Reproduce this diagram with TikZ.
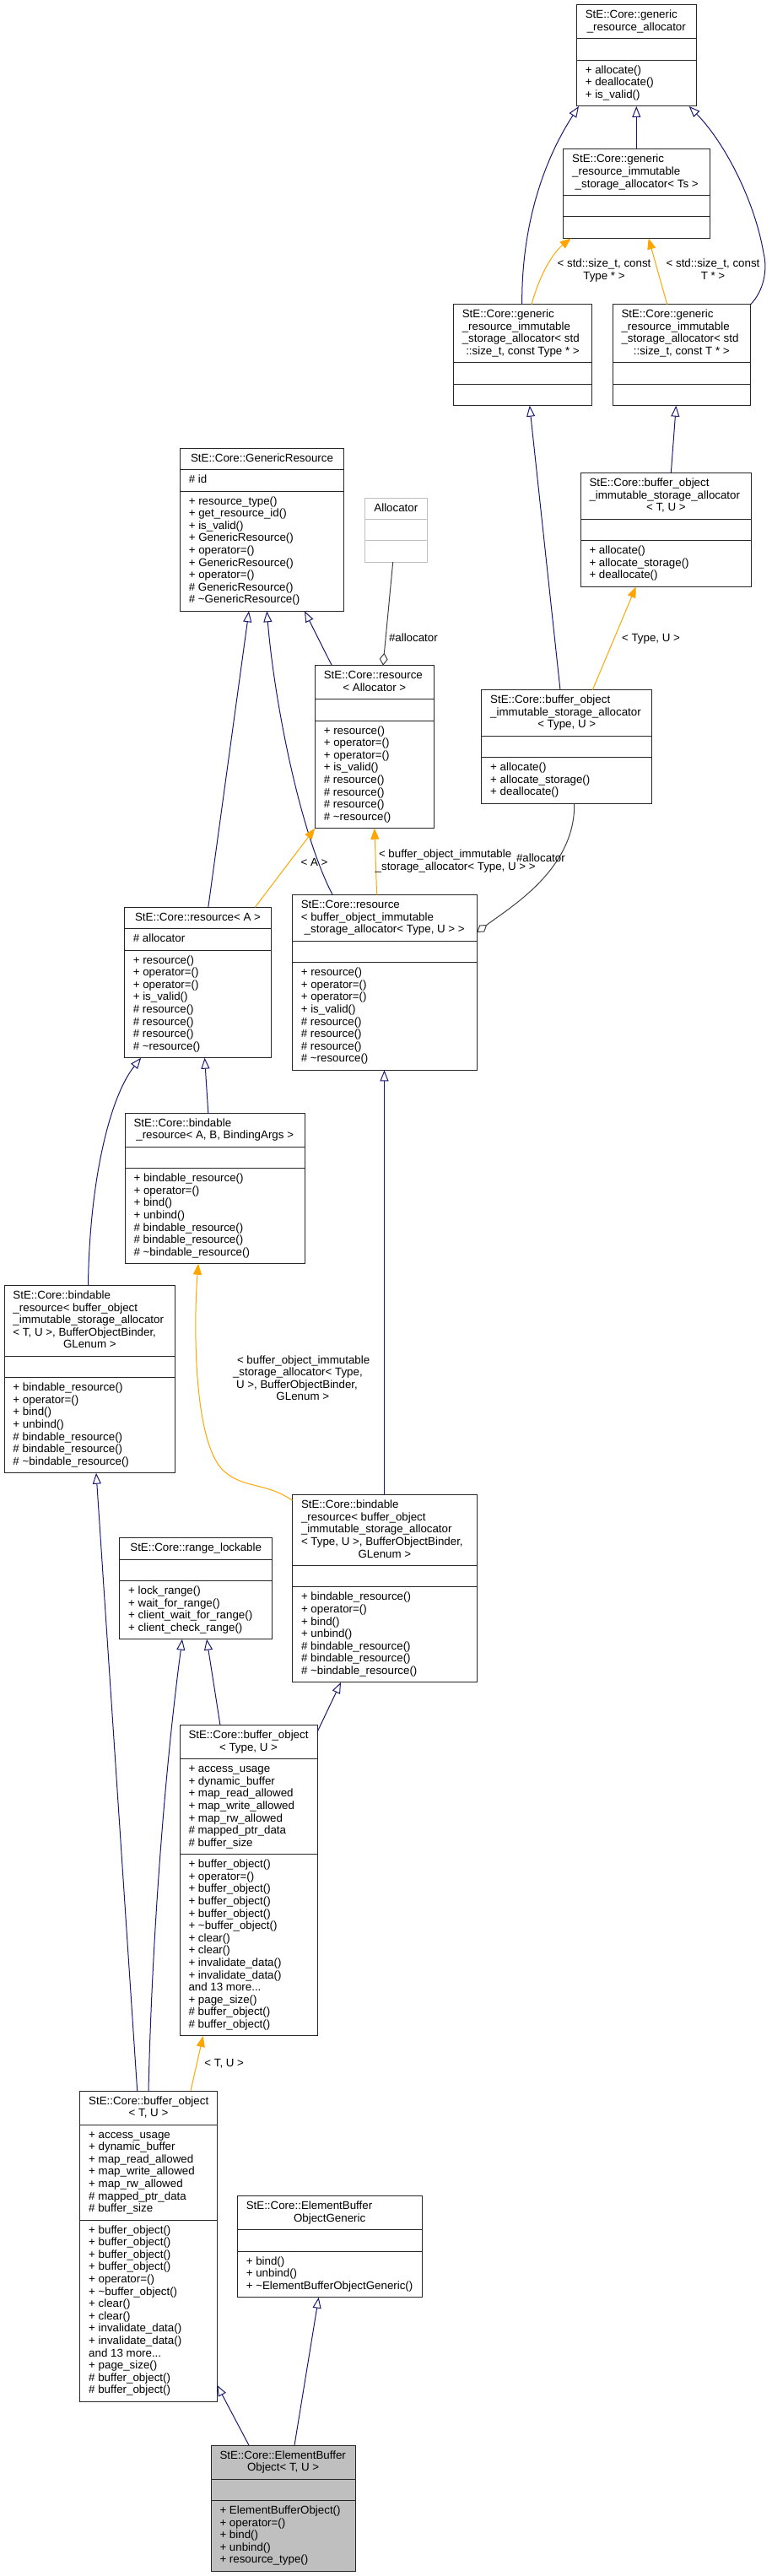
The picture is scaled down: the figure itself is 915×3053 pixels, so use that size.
\documentclass[tikz,border=0pt]{standalone}
\usepackage{fontspec}
\setmainfont{Liberation Sans}
\usetikzlibrary{arrows.meta}
\definecolor{midblue}{RGB}{25,25,112}
\definecolor{orng}{RGB}{255,165,0}
\definecolor{grey25}{RGB}{64,64,64}
\definecolor{grey75}{RGB}{191,191,191}
\newcommand\tld{\textasciitilde}
\newcommand\tdots{.\relax.\relax.}
\newcount\clscnt
\newcommand\countitems[2]{%
  \global\clscnt=0
  \if\relax\detokenize{#2}\relax\else
    \foreach \xitem in {#2}{\global\advance\clscnt by 1 }%
  \fi
  \edef#1{\the\clscnt}}
\tikzset{
  clsbox/.style={draw=black!85, line width=1pt, inner sep=0pt, outer sep=0pt, fill=white},
  clsline/.style={draw=black!85, line width=1pt},
  normalbox/.style={},
  undoc/.style={draw=grey75},
  focus/.style={fill=grey75},
  txt/.style={inner sep=0pt, outer sep=0pt, font=\fontsize{13.33pt}{14.6pt}\selectfont, text=black},
  inh/.style={draw=midblue, line width=1pt, -{Triangle[open,length=13pt,width=10pt]}},
  tmpl/.style={draw=orng, line width=1pt, -{Triangle[length=13pt,width=10pt]}},
  agg/.style={draw=grey25, line width=1pt, -{Diamond[open,length=15pt,width=10pt]}},
}
% #1 name #2 x #3 y #4 width #5 style #6 title lines (left) #7 last title line (centred) #8 attributes #9 methods
\newcommand\cls[9]{%
  \countitems\nTL{#6}\countitems\nA{#8}\countitems\nM{#9}%
  \pgfmathsetmacro\hT{25.4+14.6*\nTL}%
  \pgfmathsetmacro\hA{25.4+14.6*max(\nA-1,0)}%
  \pgfmathsetmacro\hM{25.4+14.6*max(\nM-1,0)}%
  \pgfmathsetmacro\hH{\hT+\hA+\hM}%
  \pgfmathsetmacro\hTA{\hT+\hA}%
  \node[clsbox,#5,minimum width=#4pt,minimum height=\hH pt,anchor=north west] (#1) at (#2,#3) {};
  \draw[clsline,#5] ([yshift=-\hT pt]#1.north west) -- ([yshift=-\hT pt]#1.north east);
  \draw[clsline,#5] ([yshift=-\hTA pt]#1.north west) -- ([yshift=-\hTA pt]#1.north east);
  \ifnum\nTL>0
    \foreach \xitem [count=\i] in {#6}{%
      \pgfmathsetmacro\yy{-16-14.6*(\i-1)}%
      \node[txt,anchor=base west] (#1-t\i) at ([xshift=10.5pt,yshift=\yy pt]#1.north west) {\xitem};}%
  \fi
  \pgfmathsetmacro\yy{-16-14.6*\nTL}%
  \node[txt,anchor=base] (#1-title) at ([yshift=\yy pt]#1.north) {#7};
  \ifnum\nA>0
    \foreach \xitem [count=\i] in {#8}{%
      \pgfmathsetmacro\yy{-\hT-16-14.6*(\i-1)}%
      \node[txt,anchor=base west] (#1-a\i) at ([xshift=10.5pt,yshift=\yy pt]#1.north west) {\xitem};}%
  \fi
  \ifnum\nM>0
    \foreach \xitem [count=\i] in {#9}{%
      \pgfmathsetmacro\yy{-\hTA-16-14.6*(\i-1)}%
      \node[txt,anchor=base west] (#1-m\i) at ([xshift=10.5pt,yshift=\yy pt]#1.north west) {\xitem};}%
  \fi
}
\begin{document}
\begin{tikzpicture}[x=1pt,y=-1pt]
\useasboundingbox (0,0) rectangle (915,3053);

\cls{gra}{683.3}{6}{142}{normalbox}{StE::Core::generic}{\_resource\_allocator}{}{+ allocate(),+ deallocate(),+ is\_valid()}
\cls{grisats}{667.7}{177}{174}{normalbox}{StE::Core::generic,\_resource\_immutable}{\_storage\_allocator< Ts >}{}{}
\cls{grisaType}{537.3}{360.7}{164.4}{normalbox}{StE::Core::generic,\_resource\_immutable,\_storage\_allocator< std}{::size\_t, const Type * >}{}{}
\cls{grisaT}{726}{360.7}{163.7}{normalbox}{StE::Core::generic,\_resource\_immutable,\_storage\_allocator< std}{::size\_t, const T * >}{}{}
\cls{boisaTU}{688}{560.7}{202.7}{normalbox}{StE::Core::buffer\_object,\_immutable\_storage\_allocator}{< T, U >}{}{+ allocate(),+ allocate\_storage(),+ deallocate()}
\cls{boisaType}{570.7}{817.7}{202}{normalbox}{StE::Core::buffer\_object,\_immutable\_storage\_allocator}{< Type, U >}{}{+ allocate(),+ allocate\_storage(),+ deallocate()}
\cls{genres}{213.3}{531.3}{194.4}{normalbox}{}{StE::Core::GenericResource}{\# id}{+ resource\_type(),+ get\_resource\_id(),+ is\_valid(),+ GenericResource(),+ operator=(),+ GenericResource(),+ operator=(),\# GenericResource(),\# \tld GenericResource()}
\cls{alloc}{432}{590}{74.7}{undoc}{}{Allocator}{}{}
\cls{resAlloc}{373.3}{788.7}{141}{normalbox}{StE::Core::resource}{< Allocator >}{}{+ resource(),+ operator=(),+ operator=(),+ is\_valid(),\# resource(),\# resource(),\# resource(),\# \tld resource()}
\cls{resA}{147.3}{1075.3}{174.5}{normalbox}{}{StE::Core::resource< A >}{\# allocator}{+ resource(),+ operator=(),+ operator=(),+ is\_valid(),\# resource(),\# resource(),\# resource(),\# \tld resource()}
\cls{resBoisa}{346.3}{1060.7}{218.9}{normalbox}{StE::Core::resource,< buffer\_object\_immutable}{\_storage\_allocator< Type, U > >}{}{+ resource(),+ operator=(),+ operator=(),+ is\_valid(),\# resource(),\# resource(),\# resource(),\# \tld resource()}
\cls{bindABB}{148.1}{1319.3}{213.2}{normalbox}{StE::Core::bindable}{\_resource< A, B, BindingArgs >}{}{+ bindable\_resource(),+ operator=(),+ bind(),+ unbind(),\# bindable\_resource(),\# bindable\_resource(),\# \tld bindable\_resource()}
\cls{bindTU}{5}{1523.5}{202.7}{normalbox}{StE::Core::bindable,\_resource< buffer\_object,\_immutable\_storage\_allocator,{< T, U >, BufferObjectBinder,}}{GLenum >}{}{+ bindable\_resource(),+ operator=(),+ bind(),+ unbind(),\# bindable\_resource(),\# bindable\_resource(),\# \tld bindable\_resource()}
\cls{bindType}{346.5}{1771.7}{218.8}{normalbox}{StE::Core::bindable,\_resource< buffer\_object,\_immutable\_storage\_allocator,{< Type, U >, BufferObjectBinder,}}{GLenum >}{}{+ bindable\_resource(),+ operator=(),+ bind(),+ unbind(),\# bindable\_resource(),\# bindable\_resource(),\# \tld bindable\_resource()}
\cls{rangel}{141.7}{1822.7}{181}{normalbox}{}{StE::Core::range\_lockable}{}{+ lock\_range(),+ wait\_for\_range(),+ client\_wait\_for\_range(),+ client\_check\_range()}
\cls{boType}{213}{2044.7}{163}{normalbox}{StE::Core::buffer\_object}{< Type, U >}{+ access\_usage,+ dynamic\_buffer,+ map\_read\_allowed,+ map\_write\_allowed,+ map\_rw\_allowed,\# mapped\_ptr\_data,\# buffer\_size}{+ buffer\_object(),+ operator=(),+ buffer\_object(),+ buffer\_object(),+ buffer\_object(),+ \tld buffer\_object(),+ clear(),+ clear(),+ invalidate\_data(),+ invalidate\_data(),and 13 more\tdots,+ page\_size(),\# buffer\_object(),\# buffer\_object()}
\cls{boTU}{94.7}{2478}{162.6}{normalbox}{StE::Core::buffer\_object}{< T, U >}{+ access\_usage,+ dynamic\_buffer,+ map\_read\_allowed,+ map\_write\_allowed,+ map\_rw\_allowed,\# mapped\_ptr\_data,\# buffer\_size}{+ buffer\_object(),+ buffer\_object(),+ buffer\_object(),+ buffer\_object(),+ operator=(),+ \tld buffer\_object(),+ clear(),+ clear(),+ invalidate\_data(),+ invalidate\_data(),and 13 more\tdots,+ page\_size(),\# buffer\_object(),\# buffer\_object()}
\cls{ebog}{281.3}{2602.7}{218.7}{normalbox}{StE::Core::ElementBuffer}{ObjectGeneric}{}{+ bind(),+ unbind(),+ \tld ElementBufferObjectGeneric()}
\cls{ebo}{250}{2898}{171.3}{focus}{StE::Core::ElementBuffer}{Object< T, U >}{}{+ ElementBufferObject(),+ operator=(),+ bind(),+ unbind(),+ resource\_type()}

% ---- connectors ----
\draw[inh] ([xshift=86.6pt]grisats.north west) -- ([xshift=71pt]gra.south west);
\draw[inh] ([xshift=81.4pt]grisaType.north west) .. controls (618,280) and (638,200) .. ([xshift=2.7pt]gra.south west);
\draw[inh] (grisaT.north east) .. controls (905,345) and (910,320) .. (905,300) .. controls (895,240) and (860,170) .. ([xshift=133.4pt]gra.south west);
\draw[tmpl] ([xshift=92.7pt]grisaType.north west) .. controls (640,325) and (655,300) .. ([xshift=9pt]grisats.south west);
\draw[tmpl] ([xshift=64.7pt]grisaT.north west) -- ([xshift=101pt]grisats.south west);
\draw[inh] ([xshift=107.3pt]boisaTU.north west) -- ([xshift=75.3pt]grisaT.south west);
\draw[inh] ([xshift=93.3pt]boisaType.north west) -- ([xshift=90.4pt]grisaType.south west);
\draw[tmpl] ([xshift=131.6pt]boisaType.north west) -- ([xshift=65.7pt]boisaTU.south west);
\draw[inh] ([xshift=20pt]resAlloc.north west) -- ([xshift=147.7pt]genres.south west);
\draw[agg] ([xshift=33.7pt]alloc.south west) -- ([xshift=80.7pt]resAlloc.north west);
\draw[inh] ([xshift=99.5pt]resA.north west) -- ([xshift=81.7pt]genres.south west);
\draw[inh] ([xshift=47.9pt]resBoisa.north west) .. controls (355,985) and (325,830) .. ([xshift=103pt]genres.south west);
\draw[tmpl] ([xshift=155pt]resA.north west) -- (resAlloc.south west);
\draw[tmpl] ([xshift=100.3pt]resBoisa.north west) -- ([xshift=70.6pt]resAlloc.south west);
\draw[agg] ([xshift=110pt]boisaType.south west) .. controls (682,1030) and (605,1075) .. ([yshift=-44.3pt]resBoisa.north east);
\draw[inh] ([xshift=98.7pt]bindABB.north west) -- ([xshift=95.3pt]resA.south west);
\draw[inh] ([xshift=99.5pt]bindTU.north west) .. controls (106,1400) and (130,1300) .. ([xshift=19.9pt]resA.south west);
\draw[inh] ([xshift=109pt]bindType.north west) -- ([xshift=109.2pt]resBoisa.south west);
\draw[tmpl] ([yshift=-6.6pt]bindType.north west) .. controls (315,1756) and (285,1765) .. (262,1740) .. controls (228,1700) and (230,1560) .. ([xshift=86.9pt]bindABB.south west);
\draw[inh] ([xshift=48pt]boType.north west) -- ([xshift=103.3pt]rangel.south west);
\draw[inh] ([yshift=-8pt]boType.north east) -- ([xshift=57.5pt]bindType.south west);
\draw[inh] ([xshift=81.3pt]boTU.north west) .. controls (180,2300) and (195,2100) .. ([xshift=74.3pt]rangel.south west);
\draw[inh] ([xshift=68pt]boTU.north west) -- ([xshift=109pt]bindTU.south west);
\draw[tmpl] ([xshift=131.3pt]boTU.north west) -- ([xshift=27.7pt]boType.south west);
\draw[inh] ([xshift=45pt]ebo.north west) -- ([yshift=19.5pt]boTU.south east);
\draw[inh] ([xshift=99pt]ebo.north west) -- ([xshift=96.4pt]ebog.south west);

% ---- connector labels ----
\node[txt,anchor=base] (l4a) at (716,316.7) {< std::size\_t, const};
\node[txt,anchor=base] (l4b) at (716,331.3) {Type * >};
\node[txt,anchor=base] (l5a) at (845,316.7) {< std::size\_t, const};
\node[txt,anchor=base] (l5b) at (845,331.3) {T * >};
\node[txt,anchor=base] (l8) at (771.5,760) {< Type, U >};
\node[txt,anchor=base west] (l10) at (461,760) {\#allocator};
\node[txt,anchor=base] (l13) at (372.5,1026) {< A >};
\node[txt,anchor=base west] (l14a) at (449,1016.7) {< buffer\_object\_immutable};
\node[txt,anchor=base west] (l14b) at (444.7,1031.3) {\_storage\_allocator< Type, U > >};
\node[txt,anchor=base west] (l15) at (612,1021) {\#allocator};
\node[txt,anchor=base west] (l19a) at (281,1616) {< buffer\_object\_immutable};
\node[txt,anchor=base west] (l19b) at (276,1630.6) {\_storage\_allocator< Type,};
\node[txt,anchor=base west] (l19c) at (280,1645.2) {U >, BufferObjectBinder,};
\node[txt,anchor=base] (l19d) at (358.8,1659.8) {GLenum >};
\node[txt,anchor=base] (l24) at (265.7,2449) {< T, U >};
\end{tikzpicture}
\end{document}
